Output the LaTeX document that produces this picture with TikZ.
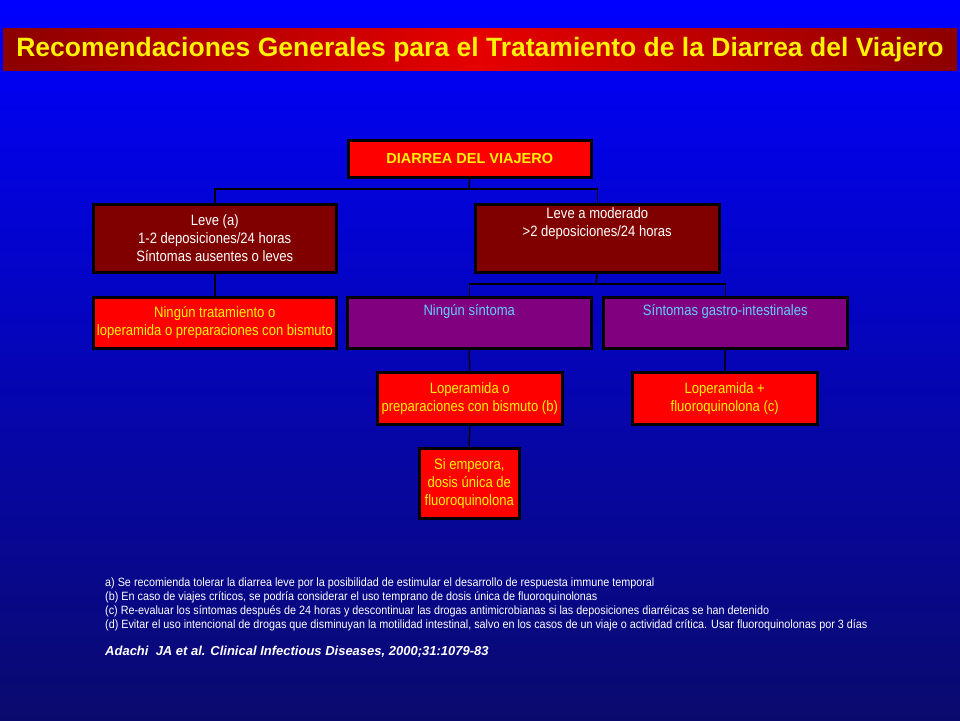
\documentclass[tikz,border=0pt]{standalone}
\usepackage{fontspec}
\setmainfont{Liberation Sans}
\newfontfamily\narrowf[FakeStretch=0.87]{Liberation Sans}
\newfontfamily\notef[FakeStretch=0.9]{Liberation Sans}
\begin{document}
\begin{tikzpicture}[x=1pt,y=-1pt,
  bx/.style={draw=black,line width=2.5pt,inner sep=0pt,anchor=north west,align=center,font=\narrowf\fontsize{15}{18}\selectfont},
  dr/.style={bx,fill={rgb,255:red,128;green,0;blue,0},text=white},
  rd/.style={bx,fill={rgb,255:red,255;green,0;blue,0},text=yellow},
  pu/.style={bx,fill={rgb,255:red,128;green,0;blue,128},text={rgb,255:red,102;green,204;blue,255}},
  ln/.style={line width=1.5pt,black}]
\shade[top color={rgb,255:red,0;green,0;blue,255},bottom color={rgb,255:red,10;green,10;blue,110}] (0,0) rectangle (960,720);
\useasboundingbox (0,0) rectangle (960,720);
\shade[left color={rgb,255:red,140;green,0;blue,0},right color={rgb,255:red,140;green,0;blue,0},middle color={rgb,255:red,230;green,0;blue,0}] (3,28) rectangle (957,70);
\node[text=yellow,font=\bfseries\fontsize{26.5}{30}\selectfont] (title) at (480,50) {Recomendaciones Generales para el Tratamiento de la Diarrea del Viajero};
\node[rd,minimum width=243,minimum height=37,font=\bfseries\fontsize{14.5}{17}\selectfont] (top) at (347,139) {DIARREA DEL VIAJERO};
\node[dr,minimum width=243,minimum height=68] (leve) at (92,203) {Leve (a)\\1-2 deposiciones/24 horas\\Síntomas ausentes o leves};
\node[dr,minimum width=244,minimum height=68,text depth=32pt] (mod) at (474,203) {Leve a moderado\\>2 deposiciones/24 horas};
\node[rd,minimum width=243,minimum height=51] (nt) at (92,296) {Ningún tratamiento o\\loperamida o preparaciones con bismuto};
\node[pu,minimum width=244,minimum height=51,text depth=26pt] (ns) at (346,296) {Ningún síntoma};
\node[pu,minimum width=244,minimum height=51,text depth=26pt] (sg) at (602,296) {Síntomas gastro-intestinales};
\node[rd,minimum width=185,minimum height=52] (lo) at (376,371) {Loperamida o\\preparaciones con bismuto (b)};
\node[rd,minimum width=185,minimum height=52] (lp) at (631,371) {Loperamida +\\fluoroquinolona (c)};
\node[rd,minimum width=100,minimum height=70] (se) at (418,447) {Si empeora,\\dosis única de\\fluoroquinolona};
\coordinate (j1) at (469,189);
\coordinate (j2) at (596,284);
\draw[ln] (top.south) -- (j1);
\draw[ln] (leve.north) |- (j1) -| (mod.north);
\draw[ln] (leve.south) -- (nt.north);
\draw[ln] (mod.south) -- (j2);
\draw[ln] (ns.north) |- (j2) -| (sg.north);
\draw[ln] (ns.south) -- (lo.north);
\draw[ln] (sg.south) -- (lp.north);
\draw[ln] (lo.south) -- (se.north);
\node[anchor=north west,text=white,align=left,inner sep=0pt,font=\notef\fontsize{12}{13.8}\selectfont] (notes) at (105,578) {a) Se recomienda tolerar la diarrea leve por la posibilidad de estimular el desarrollo de respuesta immune temporal\\(b) En caso de viajes críticos, se podría considerar el uso temprano de dosis única de fluoroquinolonas\\(c) Re-evaluar los síntomas después de 24 horas y descontinuar las drogas antimicrobianas si las deposiciones diarréicas se han detenido\\(d) Evitar el uso intencional de drogas que disminuyan la motilidad intestinal, salvo en los casos de un viaje o actividad crítica. Usar fluoroquinolonas por 3 días};
\node[anchor=north west,text=white,inner sep=0pt,font=\bfseries\itshape\fontsize{13}{15}\selectfont] (cite) at (105,646) {Adachi\ \ JA et al. Clinical Infectious Diseases,\ 2000;31:1079-83};
\end{tikzpicture}
\end{document}
